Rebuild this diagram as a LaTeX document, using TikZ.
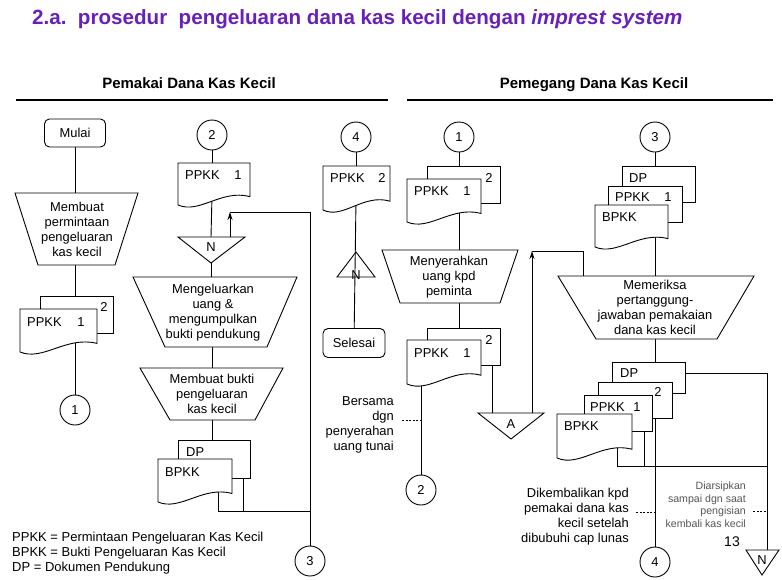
\documentclass[tikz,border=0pt]{standalone}
\usepackage{fontspec}
\setmainfont{Liberation Sans}
\usetikzlibrary{arrows.meta}
\definecolor{titlepurple}{RGB}{104,32,186}
\definecolor{notegrey}{RGB}{85,85,85}
\pgfdeclarelayer{background}
\pgfsetlayers{background,main}
\tikzset{
  flowline/.style={draw=black, line width=0.9pt},
  docline/.style={draw=black, fill=white, line width=0.9pt},
  noteline/.style={draw=black, line width=0.5pt, dash pattern=on 2pt off 1.5pt},
  boxtext/.style={font=\fontsize{12.9}{15}\selectfont, align=center, inner sep=0pt},
  conn/.style={circle, draw, fill=white, minimum size=30pt, inner sep=0pt, line width=0.9pt, font=\fontsize{12.9}{15}\selectfont},
  term/.style={rectangle, rounded corners=5pt, draw, fill=white, inner sep=0pt, line width=0.9pt, font=\fontsize{12.9}{15}\selectfont},
  hdr/.style={font=\bfseries\fontsize{15}{18}\selectfont, inner sep=0pt, anchor=base},
  uparrow/.style={flowline, -{Stealth[length=8pt,width=5pt]}}
}
\newcommand{\flowdoc}[4]{%
  \filldraw[docline] (#1,#2) -- (#1+#3,#2) -- (#1+#3,#2+0.8*#4)
    .. controls (#1+0.6*#3,#2+0.62*#4) and (#1+0.3*#3,#2+1.22*#4) .. (#1,#2+#4) -- cycle;}
\newcommand{\flowsheet}[4]{\filldraw[docline] (#1,#2) rectangle (#3,#4);}
\begin{document}
\begin{tikzpicture}[x=1pt,y=-1pt]
\useasboundingbox (0,0) rectangle (782,579);

% title and headers
\node[anchor=base west, font=\bfseries\fontsize{20.6}{24}\selectfont, text=titlepurple, inner sep=0pt] (title) at (32,24) {2.a.\ \ prosedur\ \ pengeluaran dana kas kecil dengan \textit{imprest system}};
\node[hdr] (hleft) at (189,88) {Pemakai Dana Kas Kecil};
\node[hdr] (hright) at (594,88) {Pemegang Dana Kas Kecil};
\draw[line width=2.4pt] (16,100) -- (388,100);
\draw[line width=2.4pt] (407,100) -- (773,100);

% ---------------- column 1 ----------------
\node[term, minimum width=61pt, minimum height=28pt] (mulai) at (75,133) {Mulai};
\filldraw[docline] (15,193) -- (138,193) -- (115,265) -- (38,265) -- cycle;
\coordinate (t1top) at (75,193);
\coordinate (t1bot) at (75,265);
\node[boxtext] (t1) at (77,229) {Membuat\\permintaan\\pengeluaran\\kas kecil};
\flowsheet{40}{296}{113}{333}
\flowdoc{20}{309}{77}{43}
\coordinate (d1top) at (75,296);
\coordinate (d1out) at (75,340);
\node[boxtext] (d1n2) at (104,307) {2};
\node[boxtext, anchor=west] (d1a) at (27,322) {PPKK};
\node[boxtext] (d1b) at (81,322) {1};
\node[conn] (c1) at (75,410) {1};

% ---------------- column 2 ----------------
\node[conn] (c2) at (212,135) {2};
\flowdoc{178}{163}{72}{42}
\coordinate (d2top) at (212,163);
\coordinate (d2out) at (212,195);
\node[boxtext, anchor=west] (d2a) at (185,175) {PPKK};
\node[boxtext] (d2b) at (238,175) {1};
\filldraw[docline] (178,237) -- (245,237) -- (211,263) -- cycle;
\coordinate (n2top) at (211,237);
\coordinate (n2bot) at (211,263);
\coordinate (n2arr) at (230,237);
\node[boxtext] (n2) at (211,247) {N};
\filldraw[docline] (133,277) -- (297,277) -- (267,347) -- (165,347) -- cycle;
\coordinate (t2top) at (211,277);
\coordinate (t2bot) at (212,347);
\node[boxtext] (t2) at (213,313) {Mengeluarkan\\uang \&\\mengumpulkan\\bukti pendukung};
\filldraw[docline] (140,368) -- (283,368) -- (255,420) -- (170,420) -- cycle;
\coordinate (t3top) at (212,368);
\coordinate (t3bot) at (212,420);
\node[boxtext] (t3) at (212,394) {Membuat bukti\\pengeluaran\\kas kecil};
\flowsheet{178}{440}{250}{478}
\flowdoc{158}{459}{74}{43}
\coordinate (d3top) at (212,440);
\node[boxtext, anchor=west] (d3a) at (186,452) {DP};
\node[boxtext, anchor=west] (d3b) at (165,472) {BPKK};
\coordinate (j1) at (218,490);
\coordinate (j2) at (243,470);
\coordinate (j3) at (218,511);
\coordinate (j4) at (243,511);
\coordinate (j5) at (310,511);
\coordinate (k1) at (230,212);
\coordinate (k2) at (310,212);
\node[conn] (c3) at (310,561) {3};

% ---------------- column 3 ----------------
\node[conn] (c4) at (356,137) {4};
\flowdoc{323}{166}{67}{44}
\coordinate (d4top) at (356,166);
\coordinate (d4out) at (356,200);
\node[boxtext, anchor=west] (d4a) at (330,178) {PPKK};
\node[boxtext] (d4b) at (382,178) {2};
\draw[flowline] (356,252) -- (375,277) -- (337,277) -- cycle;
\node[boxtext] (n4) at (356,275) {N};
\node[term, minimum width=62pt, minimum height=29pt] (selesai) at (354,343) {Selesai};

% ---------------- column 4 ----------------
\node[conn] (c1b) at (459,137) {1};
\flowsheet{427}{166}{500}{203}
\flowdoc{407}{179}{74}{43}
\coordinate (d5top) at (459,166);
\coordinate (d5out) at (459,212);
\node[boxtext] (d5n2) at (489,178) {2};
\node[boxtext, anchor=west] (d5a) at (414,191) {PPKK};
\node[boxtext] (d5b) at (467,191) {1};
\filldraw[docline] (382,250) -- (518,250) -- (500,303) -- (400,303) -- cycle;
\coordinate (t4top) at (459,250);
\coordinate (t4bot) at (459,303);
\node[boxtext] (t4) at (449,277) {Menyerahkan\\uang kpd\\peminta};
\flowsheet{427}{328}{500}{365}
\flowdoc{407}{340}{74}{44}
\coordinate (d6top) at (459,328);
\coordinate (d6out) at (421,375);
\coordinate (d6back) at (492,360);
\node[boxtext] (d6n2) at (489,340) {2};
\node[boxtext, anchor=west] (d6a) at (414,353) {PPKK};
\node[boxtext] (d6b) at (467,353) {1};
\node[conn] (c2b) at (421,490) {2};
\node[boxtext, anchor=east, align=right] (note1) at (394,424.5) {Bersama\\dgn\\penyerahan\\uang tunai};
\coordinate (n1a) at (402,420);
\coordinate (n1b) at (421,420);
\filldraw[docline] (478,413) -- (544,413) -- (511,439) -- cycle;
\node[boxtext] (na) at (511,424) {A};
\coordinate (atop) at (492,413);
\coordinate (aarr) at (532,413);
\coordinate (m1) at (532,251);
\coordinate (m2) at (583,251);
\coordinate (m3) at (583,276);

% ---------------- column 5 ----------------
\node[conn] (c3b) at (655,137) {3};
\flowsheet{622}{166}{695}{202}
\flowsheet{608}{186}{682}{222}
\flowdoc{595}{205}{73}{42}
\coordinate (d7top) at (655,166);
\node[boxtext, anchor=west] (d7a) at (629,178) {DP};
\node[boxtext, anchor=west] (d7b) at (615,197) {PPKK};
\node[boxtext] (d7c) at (668,197) {1};
\node[boxtext, anchor=west] (d7d) at (602,217) {BPKK};
\filldraw[docline] (558,276) -- (754,276) -- (717,339) -- (596,339) -- cycle;
\coordinate (t5top) at (655,276);
\coordinate (t5bot) at (655,339);
\node[boxtext] (t5) at (655,307) {Memeriksa\\pertanggung-\\jawaban pemakaian\\dana kas kecil};
\flowsheet{612}{362}{685}{393}
\flowsheet{598}{382}{672}{418}
\flowsheet{584}{395}{652}{431}
\flowdoc{557}{414}{75}{44}
\node[boxtext, anchor=west] (d8a) at (620,373) {DP};
\node[boxtext] (d8b) at (658,392) {2};
\node[boxtext, anchor=west] (d8c) at (590,407) {PPKK};
\node[boxtext] (d8d) at (637,407) {1};
\node[boxtext, anchor=west] (d8e) at (564,426) {BPKK};
\coordinate (p1) at (685,373);
\coordinate (p2) at (767,373);
\coordinate (p3) at (767,550);
\coordinate (q1) at (617,445);
\coordinate (q2) at (617,466);
\coordinate (q3) at (767,466);
\coordinate (q4) at (644,425);
\coordinate (q5) at (644,466);
\node[conn] (c4b) at (655,562) {4};
\filldraw[docline] (746,550) -- (779,550) -- (762,575) -- cycle;
\node[boxtext] (n5) at (762,560) {N};
\node[font=\fontsize{14}{16}\selectfont, inner sep=0pt] (pg) at (732,542) {13};
\node[boxtext, anchor=east, align=right] (note2) at (629,516.5) {Dikembalikan kpd\\pemakai dana kas\\kecil setelah\\dibubuhi cap lunas};
\coordinate (n2a) at (636,512);
\coordinate (n2b) at (655,512);
\node[anchor=east, align=right, inner sep=0pt, text=notegrey, font=\fontsize{10.6}{12.5}\selectfont] (note3) at (746,504.5) {Diarsipkan\\sampai dgn saat\\pengisian\\kembali kas kecil};
\coordinate (n3a) at (753,511);
\coordinate (n3b) at (767,511);

% legend
\node[anchor=west, align=left, inner sep=0pt, font=\fontsize{13}{15.2}\selectfont] (legend) at (12,553) {PPKK = Permintaan Pengeluaran Kas Kecil\\BPKK = Bukti Pengeluaran Kas Kecil\\DP = Dokumen Pendukung};

% ---------------- connectors ----------------
\begin{pgfonlayer}{background}
\draw[flowline] (mulai) -- (t1top);
\draw[flowline] (t1bot) -- (d1top);
\draw[flowline] (d1out) -- (c1);
\draw[flowline] (c2) -- (d2top);
\draw[flowline] (d2out) -- (n2top);
\draw[flowline] (n2bot) -- (t2top);
\draw[flowline] (t2bot) -- (t3top);
\draw[flowline] (t3bot) -- (d3top);
\draw[flowline] (j1) -- (j3) -- (j5);
\draw[flowline] (j2) -- (j4);
\draw[flowline] (k1) -- (k2) -- (c3);
\draw[flowline] (c4) -- (d4top);
\draw[flowline] (d4out) -- (selesai);
\draw[flowline] (c1b) -- (d5top);
\draw[flowline] (d5out) -- (t4top);
\draw[flowline] (t4bot) -- (d6top);
\draw[flowline] (d6out) -- (c2b);
\draw[flowline] (d6back) -- (atop);
\draw[flowline] (m1) -- (m2) -- (m3);
\draw[flowline] (c3b) -- (t5top);
\draw[flowline] (t5bot) -- (c4b);
\draw[flowline] (p1) -- (p2) -- (p3);
\draw[flowline] (q1) -- (q2) -- (q3);
\draw[flowline] (q4) -- (q5);
\end{pgfonlayer}
\draw[uparrow] (n2arr) -- (k1);
\draw[uparrow] (aarr) -- (m1);
\draw[noteline] (n1a) -- (n1b);
\draw[noteline] (n2a) -- (n2b);
\draw[noteline] (n3a) -- (n3b);
\end{tikzpicture}
\end{document}
